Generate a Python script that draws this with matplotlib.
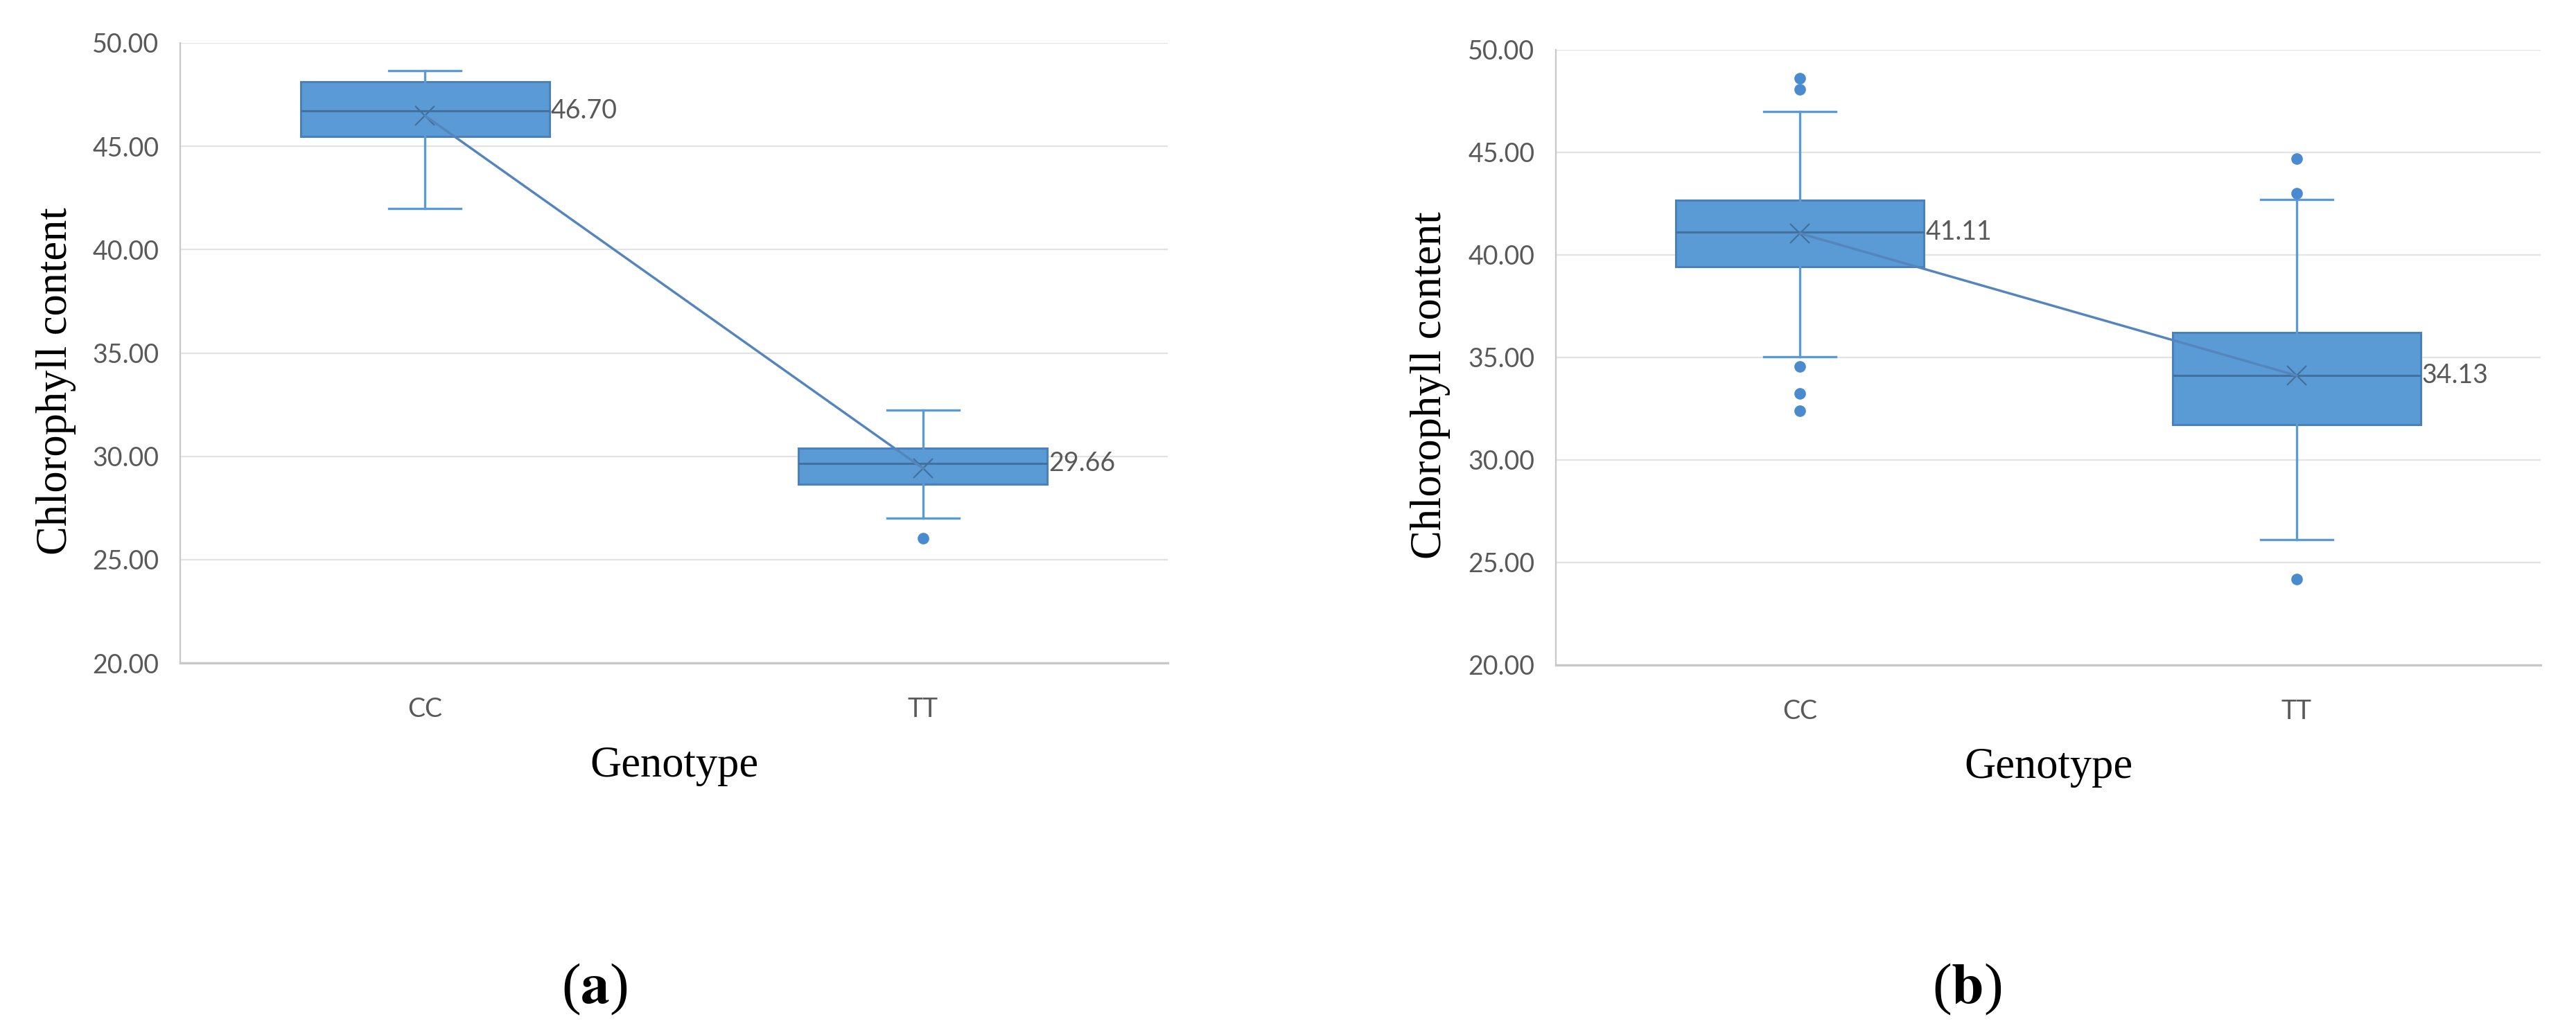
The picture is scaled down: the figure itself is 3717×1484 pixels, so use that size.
import matplotlib
matplotlib.use("Agg")
import matplotlib.pyplot as plt

# summary statistics
genotypes = ["CC", "TT"]

a_q1 = [45.47, 28.66]
a_median = [46.70, 29.66]
a_q3 = [48.12, 30.40]
a_mean = [46.48, 29.42]
a_whislo = [41.99, 27.02]
a_whishi = [48.66, 32.25]
a_fliers = [[], [26.05]]

b_q1 = [39.43, 31.72]
b_median = [41.11, 34.13]
b_q3 = [42.67, 36.20]
b_mean = [41.05, 34.12]
b_whislo = [35.03, 26.10]
b_whishi = [46.99, 42.70]
b_fliers = [[48.60, 48.06, 34.56, 33.26, 32.40], [44.70, 43.00, 24.20]]

yticks = [20, 25, 30, 35, 40, 45, 50]

FILL = "#5B9BD5"
EDGE = "#4A80BC"
DARK = "#41719C"
GRID = "#E3E3E3"
SPINE = "#C8C8C8"
TICK = "#595959"
TICK_FONT = ["Lato", "DejaVu Sans"]
SERIF = ["Liberation Serif", "DejaVu Serif"]

plt.rcParams["mathtext.fontset"] = "stix"

fig = plt.figure(figsize=(37.17, 14.84), dpi=100)


def panel(rect, q1, med, q3, mean, wlo, whi, fliers, letter, letter_x, ylab_x):
    ax = fig.add_axes(rect)
    pos = [1, 2]
    stats = []
    for i, g in enumerate(genotypes):
        stats.append(dict(label=g, q1=q1[i], med=med[i], q3=q3[i],
                          mean=mean[i], whislo=wlo[i], whishi=whi[i],
                          fliers=fliers[i]))
    ax.bxp(stats, positions=pos, widths=0.5, capwidths=0.145,
           patch_artist=True, showmeans=True,
           boxprops=dict(facecolor=FILL, edgecolor=EDGE, linewidth=2.2),
           medianprops=dict(color=DARK, linewidth=2.2),
           whiskerprops=dict(color=FILL, linewidth=2.4),
           capprops=dict(color=FILL, linewidth=2.4),
           meanprops=dict(marker="x", markersize=20, markeredgecolor=DARK,
                          markeredgewidth=1.6),
           flierprops=dict(marker="o", markersize=11, markerfacecolor="#4A8BD0",
                           markeredgecolor="#4A8BD0"))
    # line joining the means
    ax.plot(pos, mean, color="#5585BD", linewidth=2.5, zorder=5)
    for p, m in zip(pos, med):
        ax.text(p + 0.253, m, f"{m:.2f}", ha="left", va="center",
                fontsize=27, color=TICK, family=TICK_FONT, zorder=6)

    ax.set_xlim(0.508, 2.492)
    ax.set_ylim(20, 50)
    ax.set_yticks(yticks)
    ax.set_yticklabels([f"{v:.2f}" for v in yticks])
    ax.set_xticks(pos)
    ax.set_xticklabels(genotypes)
    ax.tick_params(axis="y", length=0, pad=22, labelsize=27, labelcolor=TICK)
    ax.tick_params(axis="x", length=0, pad=35, labelsize=27, labelcolor=TICK)
    for lab in ax.get_xticklabels() + ax.get_yticklabels():
        lab.set_family(TICK_FONT)
    ax.grid(axis="y", color=GRID, linewidth=1.6)
    ax.set_axisbelow(True)
    for s in ("top", "right"):
        ax.spines[s].set_visible(False)
    ax.spines["left"].set_color(SPINE)
    ax.spines["left"].set_linewidth(1.6)
    ax.spines["bottom"].set_color(SPINE)
    ax.spines["bottom"].set_linewidth(2.4)

    ax.set_ylabel("Chlorophyll content", fontsize=45, family=SERIF)
    ax.yaxis.set_label_coords(ylab_x, 0.455)
    ax.set_xlabel("Genotype", fontsize=45, family=SERIF)
    ax.xaxis.set_label_coords(0.5, -0.134)

    fig.text(letter_x, 1 - 1428 / 1484, f"(${{\\mathbf{{{letter}}}}}$)",
             ha="center", va="center", fontsize=60, family=SERIF)
    return ax


panel([260 / 3717, 1 - 957 / 1484, 1425 / 3717, 895 / 1484],
      a_q1, a_median, a_q3, a_mean, a_whislo, a_whishi, a_fliers,
      "a", 858 / 3717, -0.105)
panel([2245 / 3717, 1 - 960 / 1484, 1421 / 3717, 888 / 1484],
      b_q1, b_median, b_q3, b_mean, b_whislo, b_whishi, b_fliers,
      "b", 2838 / 3717, -0.107)

fig.savefig("out.png", dpi=100, facecolor="white")
